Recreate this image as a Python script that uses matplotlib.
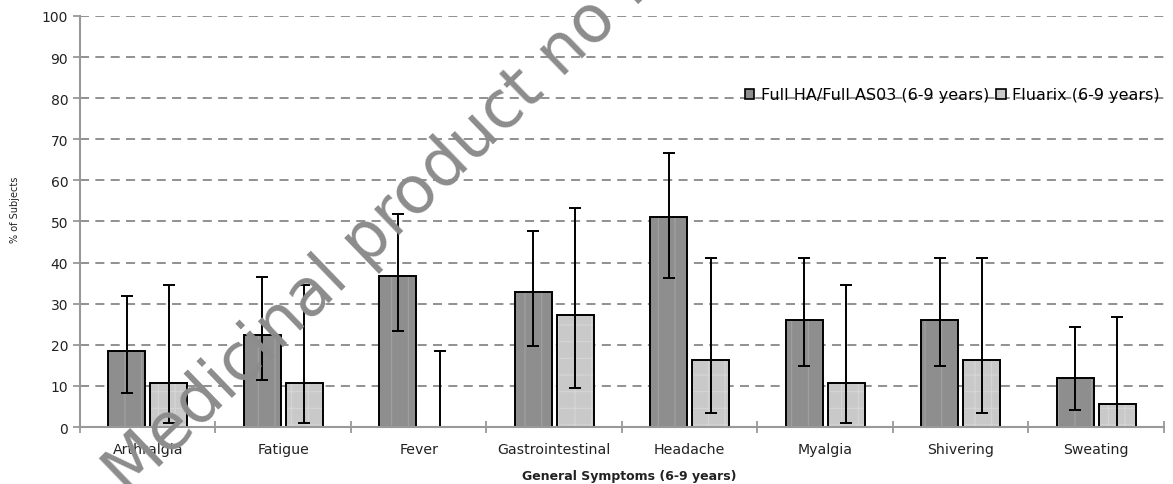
import matplotlib.pyplot as plt
import numpy as np

plt.rcParams['font.family'] = ['DejaVu Sans']
plt.rcParams['hatch.linewidth'] = 0.8

# general symptoms, % of subjects with 95% CI
categories = ['Arthralgia', 'Fatigue', 'Fever', 'Gastrointestinal',
              'Headache', 'Myalgia', 'Shivering', 'Sweating']
full_pct = [18.4, 22.5, 36.8, 32.8, 51.1, 26.1, 26.1, 11.9]
full_lo = [8.3, 11.5, 23.3, 19.6, 36.2, 14.8, 14.8, 4.2]
full_hi = [31.8, 36.6, 51.8, 47.7, 66.7, 41.0, 41.0, 24.4]
flu_pct = [10.7, 10.7, 0.0, 27.3, 16.4, 10.7, 16.4, 5.5]
flu_lo = [1.0, 1.0, 0.0, 9.5, 3.4, 1.0, 3.4, 0.0]
flu_hi = [34.6, 34.6, 18.4, 53.3, 41.0, 34.5, 41.0, 26.8]

series_names = ['Full HA/Full AS03 (6-9 years)', 'Fluarix (6-9 years)']
dark = '#8e8e8e'
light = '#c9c9c9'

fig = plt.figure(figsize=(11.73, 4.85), dpi=100)
ax = fig.add_axes([0.0682, 0.1175, 0.9241, 0.8475])

x = np.arange(len(categories))
w = 0.27
off = 0.155

def draw_group(xpos, pct, lo, hi, color, hatch, hcolor):
    pct = np.array(pct)
    ax.bar(xpos, pct, w, color=color, edgecolor=hcolor, linewidth=0, hatch=hatch, zorder=3)
    ax.bar(xpos, pct, w, fill=False, edgecolor='black', linewidth=1.4, zorder=3)
    yerr = [pct - np.array(lo), np.array(hi) - pct]
    ax.errorbar(xpos, pct, yerr=yerr, fmt='none', ecolor='black',
                elinewidth=1.4, capsize=4, capthick=1.4, zorder=4)

draw_group(x - off, full_pct, full_lo, full_hi, dark, '|', '#a2a2a2')
draw_group(x + off, flu_pct, flu_lo, flu_hi, light, '+', '#d6d6d6')

ax.set_xlim(-0.5, len(categories) - 0.5)
ax.set_ylim(0, 100)
ax.set_yticks(np.arange(0, 101, 10))
ax.yaxis.grid(True, linestyle=(0, (5, 3.5)), color='#888888', linewidth=1.3, zorder=0)
ax.set_axisbelow(True)

ax.set_xticks(x)
ax.set_xticklabels(categories)
ax.set_xticks(np.arange(-0.5, len(categories)), minor=True)
ax.tick_params(axis='x', which='major', length=0, pad=11, labelsize=10.2, labelcolor='#222222')
ax.tick_params(axis='x', which='minor', length=8, direction='inout', color='#999999', width=1.3)
ax.tick_params(axis='y', length=5, color='#999999', width=1.3, labelsize=10,
               labelcolor='#222222', pad=3.5)

for s in ['top', 'right']:
    ax.spines[s].set_visible(False)
for s in ['left', 'bottom']:
    ax.spines[s].set_color('#999999')
    ax.spines[s].set_linewidth(1.5)
    ax.spines[s].set_zorder(5)

fig.text(629 / 1173, 1 - 477 / 485, 'General Symptoms (6-9 years)', fontsize=9,
         fontweight='bold', color='#222222', ha='center', va='center')
ax.set_ylabel('% of Subjects', fontsize=7, color='#222222')
ax.yaxis.set_label_coords(-0.055, 0.53)

handles = [plt.Rectangle((0, 0), 1, 1, facecolor=c, edgecolor='black', linewidth=1.2)
           for c in [dark, light]]
fig.legend(handles, series_names, loc='center right', ncol=2, frameon=False,
           bbox_to_anchor=(1166 / 1173, 1 - 96 / 485), borderaxespad=0, fontsize=11.5,
           handlelength=0.6, handleheight=0.6, handletextpad=0.4, columnspacing=0.45)

fig.text(128 / 1173, 1 - 497 / 485, 'Medicinal product no longer authorised',
         rotation=44, rotation_mode='anchor', ha='left', va='baseline',
         fontsize=47, color='#8c8c8c', zorder=10)

fig.savefig('out.png', dpi=100)
